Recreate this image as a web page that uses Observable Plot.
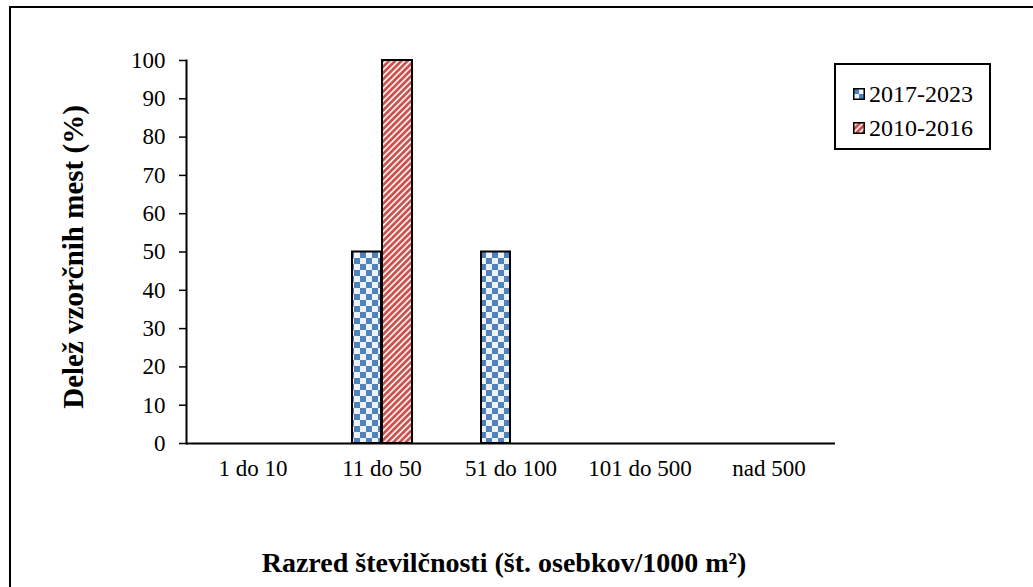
<!DOCTYPE html>
<html>
<head>
<meta charset="utf-8">
<script src="https://cdn.jsdelivr.net/npm/d3@7"></script>
<script src="https://cdn.jsdelivr.net/npm/@observablehq/plot@0.6"></script>
<style>
  html, body { margin: 0; padding: 0; background: #fff; overflow: hidden; width: 1033px; height: 587px; }
  #wrap { position: relative; width: 1033px; height: 587px; font-family: 'Liberation Serif', 'Times New Roman', serif; }
  #border { position: absolute; left: 9px; top: 6px; width: 1200px; height: 800px; border: 2px solid #000; box-sizing: border-box; }
  #chart { position: absolute; left: 0; top: 0; }
  #legend { position: absolute; left: 834px; top: 63px; width: 157px; height: 87px; border: 2px solid #000; box-sizing: border-box; background: #fff; color: #000; }
  #legend, #legend span { font-family: 'Liberation Serif', 'Times New Roman', serif !important; font-size: 24px; line-height: 26px; }
  .item { position: absolute; left: 17px; display: flex; align-items: center; white-space: nowrap; }
  .item svg { margin-right: 4px; }
</style>
</head>
<body>
<svg width="0" height="0" style="position:absolute">
  <defs>
    <pattern id="checker" patternUnits="userSpaceOnUse" width="12" height="12">
      <rect width="12" height="12" fill="#eef3fa"></rect>
      <rect x="0" y="0" width="6" height="6" fill="#4f81bd"></rect>
      <rect x="6" y="6" width="6" height="6" fill="#4f81bd"></rect>
    </pattern>
    <pattern id="stripes" patternUnits="userSpaceOnUse" width="4.4" height="4.4" patternTransform="rotate(45)">
      <rect width="4.4" height="4.4" fill="#fbeaea"></rect>
      <rect x="0" y="0" width="2.6" height="4.4" fill="#c9504d"></rect>
    </pattern>
  </defs>
</svg>
<div id="wrap">
  <div id="border"></div>
  <div id="chart"></div>
  <div id="legend"></div>
</div>
<script>
const categories = ["1 do 10", "11 do 50", "51 do 100", "101 do 500", "nad 500"];
const seriesNames = ["2017-2023", "2010-2016"];
const values20172023 = [0, 50, 50, 0, 0];
const values20102016 = [0, 100, 0, 0, 0];
const yTicks = [0, 10, 20, 30, 40, 50, 60, 70, 80, 90, 100];
const xTitle = "Razred številčnosti (št. osebkov/1000 m²)";
const yTitle = "Delež vzorčnih mest (%)";

const fills = {"2017-2023": "url(#checker)", "2010-2016": "url(#stripes)"};

const dataA = categories.map((c, i) => ({category: c, value: values20172023[i]})).filter(d => d.value > 0);
const dataB = categories.map((c, i) => ({category: c, value: values20102016[i]})).filter(d => d.value > 0);

const chart = Plot.plot({
  width: 1033,
  height: 587,
  marginLeft: 186,
  marginRight: 198,
  marginTop: 60,
  marginBottom: 144,
  style: {fontFamily: "'Liberation Serif', 'Times New Roman', serif", fontSize: "22px", color: "#000", background: "transparent", overflow: "visible"},
  x: {domain: categories, padding: 0},
  y: {domain: [0, 100]},
  marks: [
    Plot.barY(dataA, {x: "category", y: "value", fill: fills["2017-2023"], stroke: "#000", strokeWidth: 2, insetLeft: 35, insetRight: 65}),
    Plot.barY(dataB, {x: "category", y: "value", fill: fills["2010-2016"], stroke: "#000", strokeWidth: 2, insetLeft: 65, insetRight: 34}),
    Plot.ruleY([0], {stroke: "#000", strokeWidth: 2}),
    Plot.axisY({ticks: yTicks, tickSize: 7, tickPadding: 14, tickFormat: d => String(d), fontSize: 23, strokeWidth: 1.5,
      label: yTitle, labelAnchor: "center", labelArrow: "none", labelOffset: 124}),
    Plot.frame({anchor: "left", stroke: "#000", strokeWidth: 2}),
    Plot.axisX({tickSize: 0, tickPadding: 16, fontSize: 23, label: xTitle, labelAnchor: "center", labelArrow: "none", labelOffset: 128})
  ]
});
chart.querySelectorAll("[aria-label='y-axis label'] text").forEach(t => {
  t.style.fontWeight = "bold";
  t.style.fontSize = "29px";
  t.setAttribute("dx", "-5");
});
chart.querySelectorAll("[aria-label='x-axis label'] text").forEach(t => {
  t.style.fontWeight = "bold";
  t.style.fontSize = "28px";
  t.setAttribute("dx", "-7");
});
document.getElementById("chart").appendChild(chart);

// legend
const legend = d3.select("#legend");
seriesNames.forEach((s, i) => {
  const item = legend.append("div").attr("class", "item").style("top", (i === 0 ? 16 : 50) + "px");
  const sv = item.append("svg").attr("width", 12).attr("height", 12);
  sv.append("rect").attr("x", 0.75).attr("y", 0.75).attr("width", 10.5).attr("height", 10.5)
    .attr("fill", fills[s]).attr("stroke", "#000").attr("stroke-width", 1.5);
  item.append("span").text(s);
});
</script>
</body>
</html>
